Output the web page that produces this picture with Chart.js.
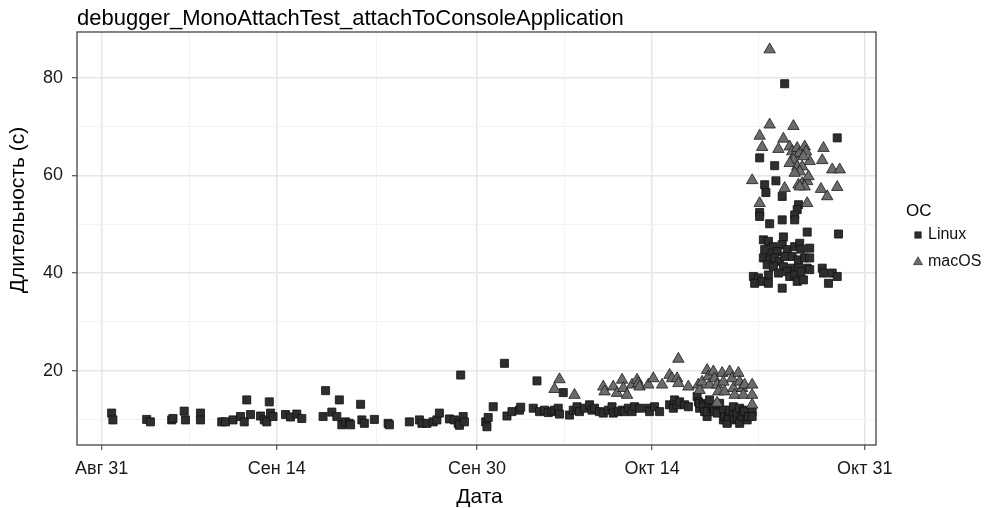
<!DOCTYPE html>
<html>
<head>
<meta charset="utf-8">
<script src="https://cdn.jsdelivr.net/npm/chart.js@4.4.1/dist/chart.umd.min.js"></script>
<style>
  html, body { margin: 0; padding: 0; background: #ffffff; }
  #wrap { width: 988px; height: 508px; }
</style>
</head>
<body>
<div id="wrap"><canvas id="chart" width="988" height="508"></canvas></div>
<script>
// ---- texts ----
const chartTitle = 'debugger_MonoAttachTest_attachToConsoleApplication';
const xAxisTitle = 'Дата';
const yAxisTitle = 'Длительность (с)';
const legendTitle = 'ОС';
const seriesNames = ['Linux', 'macOS'];

// ---- x axis: days counted from Aug 31 ----
const dateTickDays   = [0, 14, 30, 44, 61];
const dateTickLabels = ['Авг 31', 'Сен 14', 'Сен 30', 'Окт 14', 'Окт 31'];
const dateMinorDays  = [7, 22, 37, 52.5];

// ---- y axis: seconds ----
const durationTicks = [20, 40, 60, 80];
const durationMinor = [10, 30, 50, 70];

// ---- test runs: [day since Aug 31, duration in seconds] ----
const linuxRuns = [
  [0.8,11.3],[0.9,9.9],[3.6,10.0],[3.9,9.5],[5.6,9.9],[5.7,10.2],[6.6,11.7],[6.7,9.9],
  [7.9,11.3],[7.9,9.9],[9.6,9.5],[9.9,9.5],[10.5,9.9],[11.1,10.6],[11.4,9.5],[11.6,14.0],[11.9,11.0],
  [12.7,10.7],[13.0,9.9],[13.2,9.5],[13.4,13.6],[13.5,11.3],[13.7,10.6],
  [14.7,11.0],[15.1,10.5],[15.6,11.1],[16.0,10.2],
  [17.7,10.6],[17.9,15.9],[18.4,11.5],[18.8,10.6],[19.0,14.0],[19.2,8.9],[19.5,9.5],[19.8,9.2],[19.9,8.9],
  [20.7,13.1],[20.8,9.9],[21.0,9.2],[21.8,10.0],[22.9,9.2],[23.0,8.9],
  [24.6,9.5],[25.4,9.9],[25.6,9.2],[26.0,9.2],[26.5,9.5],[26.8,9.9],[27.0,11.3],
  [27.8,10.1],[28.2,9.9],[28.5,9.2],[28.6,8.8],[28.7,19.1],[28.9,10.6],[29.0,9.5],
  [30.7,9.5],[30.8,8.5],[30.9,10.4],[31.3,12.6],
  [32.2,21.5],[32.4,10.7],[32.8,11.6],[33.4,11.9],[33.5,12.5],
  [34.5,12.3],[34.8,17.9],[35.0,11.6],[35.4,11.9],[35.7,11.4],[36.0,11.6],[36.2,11.9],[36.5,12.3],[36.6,11.1],[36.9,15.5],
  [37.4,10.9],[37.7,11.9],[38.0,12.6],[38.2,11.6],[38.6,12.3],[39.0,13.0],
  [39.2,11.9],[39.4,12.3],[39.8,11.6],[40.1,11.3],[40.5,11.9],[40.8,12.6],[40.9,11.3],[41.3,11.6],
  [41.6,11.9],[41.8,11.6],[42.1,12.3],[42.4,11.6],[42.6,12.6],[43.0,12.3],[43.7,12.3],[43.8,11.6],
  [44.2,12.6],[44.6,11.6],
  [45.4,13.0],[45.7,12.3],[45.8,14.0],[46.0,13.0],[46.2,13.6],[46.6,13.0],[46.9,12.6],
  [47.6,14.7],[47.7,13.6],[47.8,12.3],[47.8,13.3],[48.1,13.0],[48.1,12.6],[48.2,11.6],[48.4,10.6],
  [48.4,11.6],[48.5,13.3],[48.6,14.0],[48.8,12.3],[48.9,12.3],[49.0,11.6],[49.2,11.3],[49.3,13.0],
  [49.4,13.3],[49.7,11.9],[49.7,9.9],[49.8,10.6],[50.0,9.5],[50.0,9.2],[50.1,10.6],[50.2,11.6],
  [50.2,11.9],[50.5,10.9],[50.5,12.6],[50.6,9.9],[50.8,10.2],[50.8,11.3],[51.0,12.3],[51.0,9.2],
  [51.2,10.9],[51.2,10.6],[51.3,11.9],[51.4,11.6],[51.6,9.9],[51.7,10.6],[52.0,11.6],[52.0,10.6],
  [52.6,63.6],[53.8,62.0],[53.0,58.1],[53.1,56.5],[53.9,58.9],[54.4,55.7],[52.6,52.4],[52.6,51.6],
  [55.7,54.0],[55.6,53.0],[55.4,51.9],[55.4,50.9],[53.4,50.1],[54.4,50.9],[56.4,48.4],[58.9,48.0],
  [54.6,78.8],[58.8,67.7],
  [52.9,46.8],[53.3,46.5],[54.5,47.4],[54.4,45.8],[53.7,45.4],[53.0,44.8],[53.6,44.1],[54.0,44.4],
  [54.8,44.8],[55.4,45.4],[55.8,46.1],[55.9,44.9],[56.6,45.1],[52.9,43.1],[53.4,42.7],[53.8,43.1],
  [54.2,42.4],[54.6,43.4],[55.2,43.4],[55.7,42.7],[56.2,43.1],[56.6,43.1],[53.2,41.7],[53.7,41.3],
  [54.5,41.3],[55.2,41.0],[55.7,41.0],[56.4,41.0],[53.3,39.6],[54.1,40.0],[54.8,40.3],[55.0,39.3],
  [55.4,39.6],[55.9,40.3],[56.6,40.7],[52.1,39.3],[52.5,39.0],[52.2,37.9],[52.8,38.3],[53.3,37.9],
  [55.6,38.3],[56.1,38.6],[57.6,41.0],[57.7,40.0],[58.4,40.0],[58.8,39.3],[58.1,37.9],[54.4,36.9]
];

const macRuns = [
  [36.2,16.2],[36.6,18.2],[37.8,15.0],
  [40.1,16.7],[40.2,15.7],[40.9,16.7],[41.2,15.4],[41.6,18.1],[41.7,16.4],[42.0,15.0],[42.4,17.1],
  [42.8,18.1],[42.9,17.4],[43.0,16.7],[43.7,17.1],[44.1,18.4],[44.8,17.1],[45.4,19.1],[45.6,18.4],
  [46.0,18.4],[46.1,17.4],[46.1,22.4],[46.9,16.7],
  [47.7,17.1],[47.8,16.0],[48.0,17.7],[48.4,20.1],[48.5,18.8],[48.6,17.1],[48.9,19.8],[49.0,18.4],
  [49.2,17.1],[49.3,15.7],[49.6,19.5],[49.7,17.7],[49.8,15.7],[50.2,19.8],[50.4,18.4],[50.5,16.4],
  [50.6,15.0],[50.9,19.5],[51.0,17.7],[51.2,16.4],[51.3,15.0],[51.4,17.1],[52.0,17.1],[52.0,15.0],
  [52.0,13.0],[49.2,13.4],
  [53.4,85.8],[53.4,70.4],[55.3,70.1],[52.6,68.1],[54.5,67.5],[52.8,65.8],[54.1,65.4],[55.0,65.9],
  [55.2,64.9],[55.4,64.2],[55.6,65.6],[55.8,64.6],[56.2,65.9],[56.3,64.9],[56.6,62.9],[56.1,63.9],
  [55.3,63.2],[55.0,62.5],[55.6,61.8],[56.0,61.8],[55.8,60.8],[55.4,60.5],[57.7,65.6],[57.6,63.1],
  [58.4,61.2],[59.0,61.2],[52.0,59.0],[54.6,57.4],[55.7,58.1],[56.0,58.4],[56.4,58.8],[56.5,59.8],
  [56.2,57.7],[55.8,57.7],[57.5,57.2],[58.0,55.7],[58.8,57.6],[52.6,54.3],[56.4,54.3]
];

// ---- styling ----
const FONT = '"Liberation Sans", Arial, Helvetica, sans-serif';
const seriesStyle = {
  Linux: { pointStyle: 'rect',     radius: 5.7, fill: '#2e2e2e', edge: '#111111' },
  macOS: { pointStyle: 'triangle', radius: 6.6, fill: '#6c6c6c', edge: '#1c1c1c' }
};
const MAJOR_GRID = '#e6e6e6';
const MINOR_GRID = '#f2f2f2';

const toXY = rows => rows.map(r => ({ x: r[0], y: r[1] }));

function setTicks(major, minor) {
  return scale => {
    scale.ticks = major.concat(minor).sort((a, b) => a - b).map(v => ({ value: v, major: major.includes(v) }));
  };
}
function isMajor(list, v) { return list.some(m => Math.abs(m - v) < 1e-9); }

// panel border, titles and legend drawn around the plot panel
const panelDecor = {
  id: 'panelDecor',
  afterDatasetsDraw(chart) {
    const { ctx, chartArea: a } = chart;
    ctx.save();
    ctx.strokeStyle = '#444444';
    ctx.lineWidth = 1.3;
    ctx.strokeRect(a.left, a.top, a.right - a.left, a.bottom - a.top);
    ctx.restore();
  },
  afterDraw(chart) {
    const { ctx, chartArea: a } = chart;
    ctx.save();
    ctx.fillStyle = '#000000';
    ctx.textBaseline = 'alphabetic';
    ctx.textAlign = 'left';
    ctx.font = '22px ' + FONT;
    ctx.fillText(chartTitle, a.left, 25);

    // axis titles
    ctx.textAlign = 'center';
    ctx.textBaseline = 'middle';
    ctx.font = '21px ' + FONT;
    ctx.fillText(xAxisTitle, (a.left + a.right) / 2 + 3, 497);
    ctx.save();
    ctx.translate(18, 210);
    ctx.rotate(-Math.PI / 2);
    ctx.fillText(yAxisTitle, 0, 0);
    ctx.restore();

    // legend
    const lx = 906, ly = 211;
    ctx.textAlign = 'left';
    ctx.font = '17px ' + FONT;
    ctx.fillText(legendTitle, lx, ly);
    seriesNames.forEach((name, i) => {
      const st = seriesStyle[name];
      const cy = ly + 24 + i * 27;
      ctx.fillStyle = st.fill;
      ctx.strokeStyle = st.edge;
      ctx.lineWidth = 0.6;
      Chart.helpers.drawPoint(ctx, { pointStyle: st.pointStyle, radius: st.radius * 0.8, borderWidth: 0.6 }, 918, cy);
      ctx.fillStyle = '#111111';
      ctx.font = '16px ' + FONT;
      ctx.fillText(name, 928, cy);
    });
    ctx.restore();
  }
};

const datasets = seriesNames.map(name => {
  const st = seriesStyle[name];
  return {
    label: name,
    data: toXY(name === 'Linux' ? linuxRuns : macRuns),
    order: name === 'Linux' ? 1 : 0,
    pointStyle: st.pointStyle,
    pointRadius: st.radius,
    pointBackgroundColor: st.fill,
    pointBorderColor: st.edge,
    pointBorderWidth: 0.8,
    showLine: false
  };
});

new Chart(document.getElementById('chart'), {
  type: 'scatter',
  data: { datasets },
  plugins: [panelDecor],
  options: {
    responsive: false,
    animation: false,
    devicePixelRatio: 1,
    layout: { padding: { left: 0, top: 32, right: 112, bottom: 0 } },
    plugins: { legend: { display: false }, tooltip: { enabled: false }, title: { display: false } },
    scales: {
      x: {
        type: 'linear',
        min: -1.97,
        max: 61.9,
        afterBuildTicks: setTicks(dateTickDays, dateMinorDays),
        afterFit: s => { s.height = 63; },
        border: { display: false },
        grid: {
          color: c => isMajor(dateTickDays, c.tick.value) ? MAJOR_GRID : MINOR_GRID,
          lineWidth: c => isMajor(dateTickDays, c.tick.value) ? 1.5 : 0.9,
          tickLength: 5,
          tickWidth: 1,
          tickColor: c => isMajor(dateTickDays, c.tick.value) ? '#333333' : 'rgba(0,0,0,0)'
        },
        ticks: {
          autoSkip: false,
          maxRotation: 0,
          padding: 8,
          color: '#1a1a1a',
          font: { family: FONT, size: 18 },
          callback: v => {
            const k = dateTickDays.findIndex(d => Math.abs(d - v) < 1e-9);
            return k >= 0 ? dateTickLabels[k] : '';
          }
        },
        title: { display: false }
      },
      y: {
        type: 'linear',
        min: 4.76,
        max: 89.4,
        afterBuildTicks: setTicks(durationTicks, durationMinor),
        afterFit: s => { s.width = 77; },
        border: { display: false },
        grid: {
          color: c => isMajor(durationTicks, c.tick.value) ? MAJOR_GRID : MINOR_GRID,
          lineWidth: c => isMajor(durationTicks, c.tick.value) ? 1.5 : 0.9,
          tickLength: 5,
          tickWidth: 1,
          tickColor: c => isMajor(durationTicks, c.tick.value) ? '#333333' : 'rgba(0,0,0,0)'
        },
        ticks: {
          autoSkip: false,
          padding: 9,
          color: '#1a1a1a',
          font: { family: FONT, size: 18 },
          callback: v => isMajor(durationTicks, v) ? String(v) : ''
        },
        title: { display: false }
      }
    }
  }
});
</script>
</body>
</html>
